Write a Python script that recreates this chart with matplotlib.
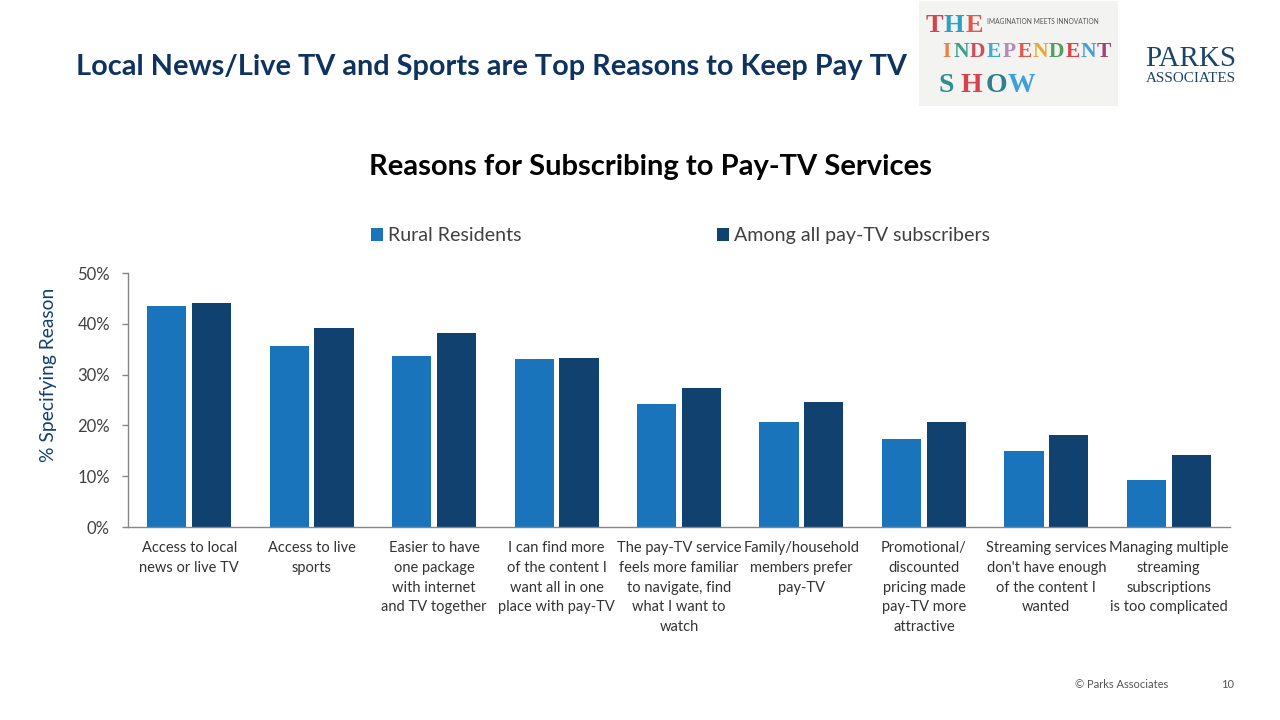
import matplotlib
matplotlib.use('Agg')
import matplotlib.pyplot as plt
import numpy as np
from matplotlib.patches import Rectangle

plt.rcParams['font.family'] = ['Lato', 'DejaVu Sans']

categories = [
    'Access to local\nnews or live TV',
    'Access to live\nsports',
    'Easier to have\none package\nwith internet\nand TV together',
    'I can find more\nof the content I\nwant all in one\nplace with pay-TV',
    'The pay-TV service\nfeels more familiar\nto navigate, find\nwhat I want to\nwatch',
    'Family/household\nmembers prefer\npay-TV',
    'Promotional/\ndiscounted\npricing made\npay-TV more\nattractive',
    "Streaming services\ndon't have enough\nof the content I\nwanted",
    'Managing multiple\nstreaming\nsubscriptions\nis too complicated',
]
rural = [43.5, 35.6, 33.6, 33.0, 24.2, 20.7, 17.3, 15.0, 9.2]
all_subs = [44.1, 39.1, 38.2, 33.2, 27.3, 24.6, 20.7, 18.1, 14.2]
y_ticks = [0, 10, 20, 30, 40, 50]

# logo letters: text, colour
logo_line1 = [('T', '#d8434a'), ('H', '#2f9fc4'), ('E', '#e2574c')]
logo_line2 = [('I', '#e8804a'), ('N', '#3f9f8f'), ('D', '#c94f5c'), ('E', '#3fa9d8'), ('P', '#b48ab8'),
              ('E', '#e2574c'), ('N', '#e8a832'), ('D', '#4f9f5f'), ('E', '#d8434a'), ('N', '#3f9fd8'), ('T', '#a83f72')]
logo_line3 = [('S', '#2f8f8f'), ('H', '#d8434a'), ('O', '#2f7f8f'), ('W', '#3f9fd8')]

BLUE = '#1a74bb'
NAVY = '#11426f'
GREY = '#404040'

fig = plt.figure(figsize=(12.8, 7.2), dpi=100)
ax = fig.add_axes([128 / 1280, 1 - 527 / 720, (1230 - 128) / 1280, (527 - 273) / 720])

x = np.arange(len(categories))
bar_w = 0.32
b1 = ax.bar(x - 0.183, rural, bar_w, color=BLUE, label='Rural Residents')
b2 = ax.bar(x + 0.183, all_subs, bar_w, color=NAVY, label='Among all pay-TV subscribers')

ax.set_xlim(-0.5, len(categories) - 0.5)
ax.set_ylim(0, 50)
ax.set_yticks(y_ticks)
ax.set_yticklabels([str(v) + '%' for v in y_ticks], fontsize=12, color=GREY)
ax.set_xticks(x)
ax.set_xticklabels(categories, fontsize=10.5, color='#333333', linespacing=1.53)
ax.tick_params(axis='x', length=0, pad=10)
ax.tick_params(axis='y', length=4.5, width=1, color='#868686', pad=8.5)
for s in ['top', 'right']:
    ax.spines[s].set_visible(False)
for s in ['left', 'bottom']:
    ax.spines[s].set_color('#868686')
    ax.spines[s].set_linewidth(1)

fig.text(49 / 1280, 1 - 375 / 720, '% Specifying Reason', rotation=90, ha='center', va='center',
         fontsize=13.9, color=NAVY)

fig.text(76 / 1280, 1 - 67 / 720, 'Local News/Live TV and Sports are Top Reasons to Keep Pay TV',
         fontsize=20.8, fontweight='bold', color='#0f3361', ha='left', va='center')
fig.text(650 / 1280, 1 - 167 / 720, 'Reasons for Subscribing to Pay-TV Services',
         fontsize=21, fontweight='bold', color='black', ha='center', va='center')

fig.legend(handles=[b1, b2], loc='center left', bbox_to_anchor=(371 / 1280, 1 - 236 / 720), ncol=2,
           frameon=False, fontsize=14.1, labelcolor=GREY, handlelength=0.61, handleheight=0.61,
           handletextpad=0.25, columnspacing=10.0, borderpad=0, borderaxespad=0)

# footer
fig.text(1075 / 1280, 1 - 685 / 720, '© Parks Associates', fontsize=8, color='#555555', va='center')
fig.text(1234 / 1280, 1 - 685 / 720, '10', fontsize=8, color='#555555', va='center', ha='right')

# Independent Show logo
fig.add_artist(Rectangle((919 / 1280, 1 - 106 / 720), 199 / 1280, 105 / 720, transform=fig.transFigure,
                         facecolor='#f3f3f1', edgecolor='none'))
def logo_word(letters, left, y, step, size):
    for i, (ch, col) in enumerate(letters):
        fig.text((left + i * step) / 1280, 1 - y / 720, ch, color=col, fontsize=size, fontweight='bold',
                 family='Liberation Serif', ha='center', va='center')

logo_word(logo_line1, 934, 26, 20, 19)
logo_word(logo_line2, 946, 52, 15.8, 15.5)
logo_word(logo_line3, 946, 85, 25, 20)
fig.text(1043 / 1280, 1 - 21 / 720, 'IMAGINATION MEETS INNOVATION', fontsize=4.8, color='#555555',
         ha='center', va='center')

# Parks Associates logo
fig.text(1190.5 / 1280, 1 - 59 / 720, 'PARKS', family='Liberation Serif', fontsize=21, color='#1b4468',
         ha='center', va='center')
fig.text(1190.5 / 1280, 1 - 79 / 720, 'ASSOCIATES', family='Liberation Serif', fontsize=10.9, color='#1b4468',
         ha='center', va='center')

fig.savefig('out.png', dpi=100)
